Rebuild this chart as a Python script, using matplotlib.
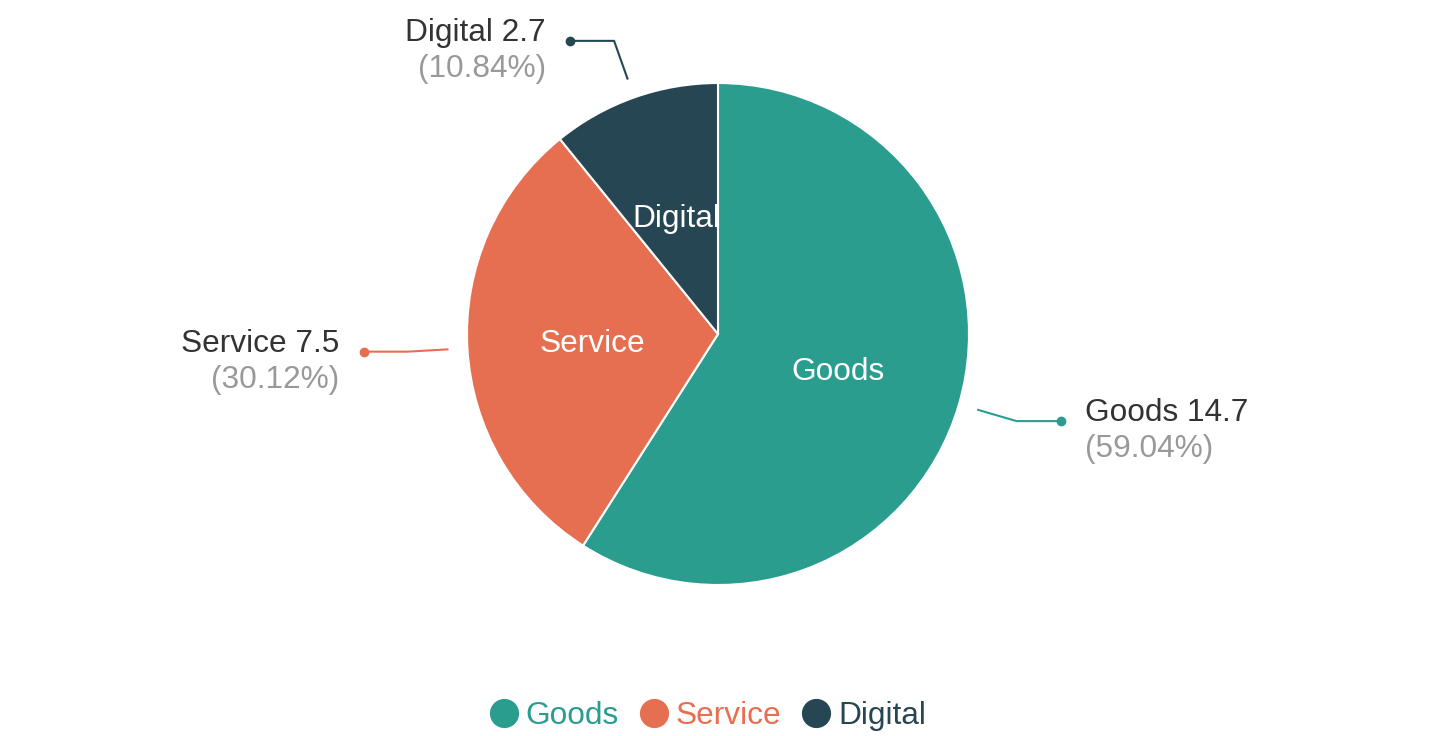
import numpy as np
import matplotlib.pyplot as plt
from matplotlib.lines import Line2D

plt.rcParams['font.family'] = ['Liberation Sans', 'DejaVu Sans']

names = ["Goods", "Service", "Digital"]
values = [14.7, 7.5, 2.7]
colors = ["#2a9d8f", "#e76f51", "#264653"]

W, H = 1436, 736
cx, cy = 718, H - 334
R = 251
FS = 22.8

fig = plt.figure(figsize=(W / 100, H / 100), dpi=100)
ax = fig.add_axes([0, 0, 1, 1])

wedges, _ = ax.pie(values, colors=colors, startangle=90, counterclock=False,
                   center=(cx, cy), radius=R, frame=True,
                   wedgeprops=dict(edgecolor='white', linewidth=1.5))
ax.set_xlim(0, W)
ax.set_ylim(0, H)
ax.axis('off')

total = sum(values)
for w, name, val, col in zip(wedges, names, values, colors):
    mid = np.deg2rad((w.theta1 + w.theta2) / 2)
    c, s = np.cos(mid), np.sin(mid)
    # inside label
    ax.text(cx + 0.5 * R * c, cy + 0.5 * R * s - 3, name, color='white',
            fontsize=FS, ha='center', va='center')
    # label line
    p1 = (cx + (R + 20) * c, cy + (R + 20) * s)
    p2 = (cx + (R + 60) * c, cy + (R + 60) * s)
    side = 1 if c >= 0 else -1
    p3 = (p2[0] + side * 44, p2[1])
    ax.plot([p1[0], p2[0], p3[0]], [p1[1], p2[1], p3[1]], color=col, lw=1.5)
    ax.plot([p3[0]], [p3[1]], 'o', color=col, markersize=6)
    tx = p3[0] + side * 24
    ha = 'left' if side > 0 else 'right'
    ax.text(tx, p3[1] + 8, f"{name} {val}", color='#333333', fontsize=FS,
            ha=ha, va='center')
    ax.text(tx, p3[1] - 28, f"({val / total * 100:.2f}%)", color='#999999',
            fontsize=FS, ha=ha, va='center')

handles = [Line2D([], [], marker='o', linestyle='none', color=c, markersize=20)
           for c in colors]
ax.legend(handles, names, loc='center', bbox_to_anchor=(708 / W, 1 - 716 / H),
          ncol=3, frameon=False, fontsize=FS, handlelength=0.88,
          handletextpad=0.25, columnspacing=0.66, labelcolor=colors,
          borderaxespad=0, borderpad=0)

fig.savefig('out.png', dpi=100)
